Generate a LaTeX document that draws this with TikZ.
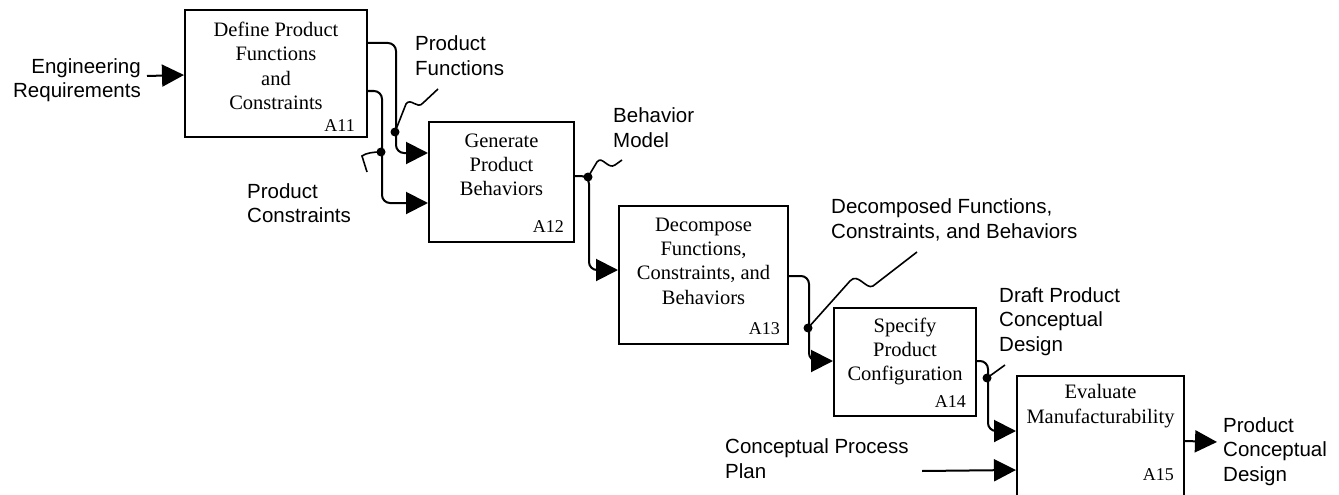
\documentclass[tikz,border=0pt]{standalone}
\usepackage{fontspec}
\setmainfont{Liberation Serif}
\setsansfont{Liberation Sans}
\usetikzlibrary{arrows.meta}

\tikzset{
  actbox/.style={draw, line width=2pt, inner sep=0pt},
  acttext/.style={align=center, inner sep=0pt, font=\rmfamily\fontsize{20.5pt}{24.3pt}\selectfont},
  actnum/.style={anchor=east, inner sep=0pt, font=\rmfamily\fontsize{18pt}{20pt}\selectfont},
  lbl/.style={align=left, anchor=west, inner sep=0pt, font=\sffamily\fontsize{20.5pt}{24.5pt}\selectfont},
  flow/.style={line width=2pt, rounded corners=8pt, -{Triangle[length=22pt,width=22pt]}},
  squig/.style={line width=1.6pt},
  joint/.style={fill=black}
}

\begin{document}
\begin{tikzpicture}[x=1pt, y=-1pt]
  \useasboundingbox (0,0) rectangle (1339,495);
  \clip (0,0) rectangle (1339,495);

  % activity boxes
  \node[actbox, minimum width=182pt, minimum height=127pt] (a11) at (276,73.5) {};
  \node[actbox, minimum width=145pt, minimum height=120pt] (a12) at (501.5,182) {};
  \node[actbox, minimum width=169pt, minimum height=138pt] (a13) at (703.5,275) {};
  \node[actbox, minimum width=142pt, minimum height=108pt] (a14) at (905,362) {};
  \node[actbox, minimum width=167pt, minimum height=129pt] (a15) at (1100.5,440.5) {};

  \node[acttext] (t11) at (276,66) {Define Product\\Functions\\and\\Constraints};
  \node[acttext] (t12) at (501.5,165) {Generate\\Product\\Behaviors};
  \node[acttext] (t13) at (703.5,261) {Decompose\\Functions,\\Constraints, and\\Behaviors};
  \node[acttext] (t14) at (905,351.5) {Specify\\Product\\Configuration};
  \node[acttext] (t15) at (1100.5,406) {Evaluate\\Manufacturability};

  \node[actnum] (n11) at (355,126) {A11};
  \node[actnum] (n12) at (564,227) {A12};
  \node[actnum] (n13) at (780,329) {A13};
  \node[actnum] (n14) at (966,402) {A14};
  \node[actnum] (n15) at (1174,475) {A15};

  % free ends
  \coordinate (erin) at (147,76);
  \coordinate (cppin) at (922,471);
  \coordinate (pcdout) at (1217,442);

  % arrows
  \draw[flow] (erin) -- ([yshift=-66pt]a11.north west);
  \draw[flow] ([yshift=-34pt]a11.north east) -- ++(28,0) |- ([yshift=-32pt]a12.north west);
  \draw[flow] ([yshift=-82pt]a11.north east) -- ++(14,0) |- ([yshift=-82pt]a12.north west);
  \draw[flow] ([yshift=-55pt]a12.north east) -- ++(14,0) |- ([yshift=-65pt]a13.north west);
  \draw[flow] ([yshift=-71pt]a13.north east) -- ++(20,0) |- ([yshift=-54pt]a14.north west);
  \draw[flow] ([yshift=-54pt]a14.north east) -- ++(11,0) |- ([yshift=-56pt]a15.north west);
  \draw[flow] (cppin) -- ([yshift=-95pt]a15.north west);
  \draw[flow] ([yshift=-66pt]a15.north east) -- (pcdout);

  % joints and squiggles
  \coordinate (jfun) at (395,132);
  \coordinate (jcon) at (381,152);
  \coordinate (jbeh) at (588,177);
  \coordinate (jdec) at (808,328);
  \coordinate (jdrf) at (987,378);
  \foreach \j in {jfun,jcon,jbeh,jdec,jdrf}
    \fill[joint] (\j) circle (4.5pt);

  \draw[squig] (jfun) -- (406,104) .. controls (411,97) and (417,110) .. (423,103) -- (438,89);
  \draw[squig] (jcon) .. controls (373,152) and (366,153) .. (362,156) -- (367,172);
  \draw[squig] (jbeh) -- (597,162) .. controls (602,155) and (608,170) .. (615,165) -- (622,160);
  \draw[squig] (jdec) -- (850,281) .. controls (858,272) and (866,290) .. (873,286) -- (917,252);
  \draw[squig] (jdrf) -- (1005,365);

  % labels
  \node[lbl, anchor=east, align=right] (engreq) at (141,80) {Engineering\\Requirements};
  \node[lbl] (prodfun) at (415,55.5) {Product\\Functions};
  \node[lbl] (prodcon) at (247,203) {Product\\Constraints};
  \node[lbl] (behmod) at (613,127.5) {Behavior\\Model};
  \node[lbl] (decomp) at (831,220) {Decomposed Functions,\\Constraints, and Behaviors};
  \node[lbl] (draft) at (999,321.5) {Draft Product\\Conceptual\\Design};
  \node[lbl] (cpp) at (725,458.5) {Conceptual Process\\Plan};
  \node[lbl] (pcd) at (1223,451.5) {Product\\Conceptual\\Design};
\end{tikzpicture}
\end{document}
